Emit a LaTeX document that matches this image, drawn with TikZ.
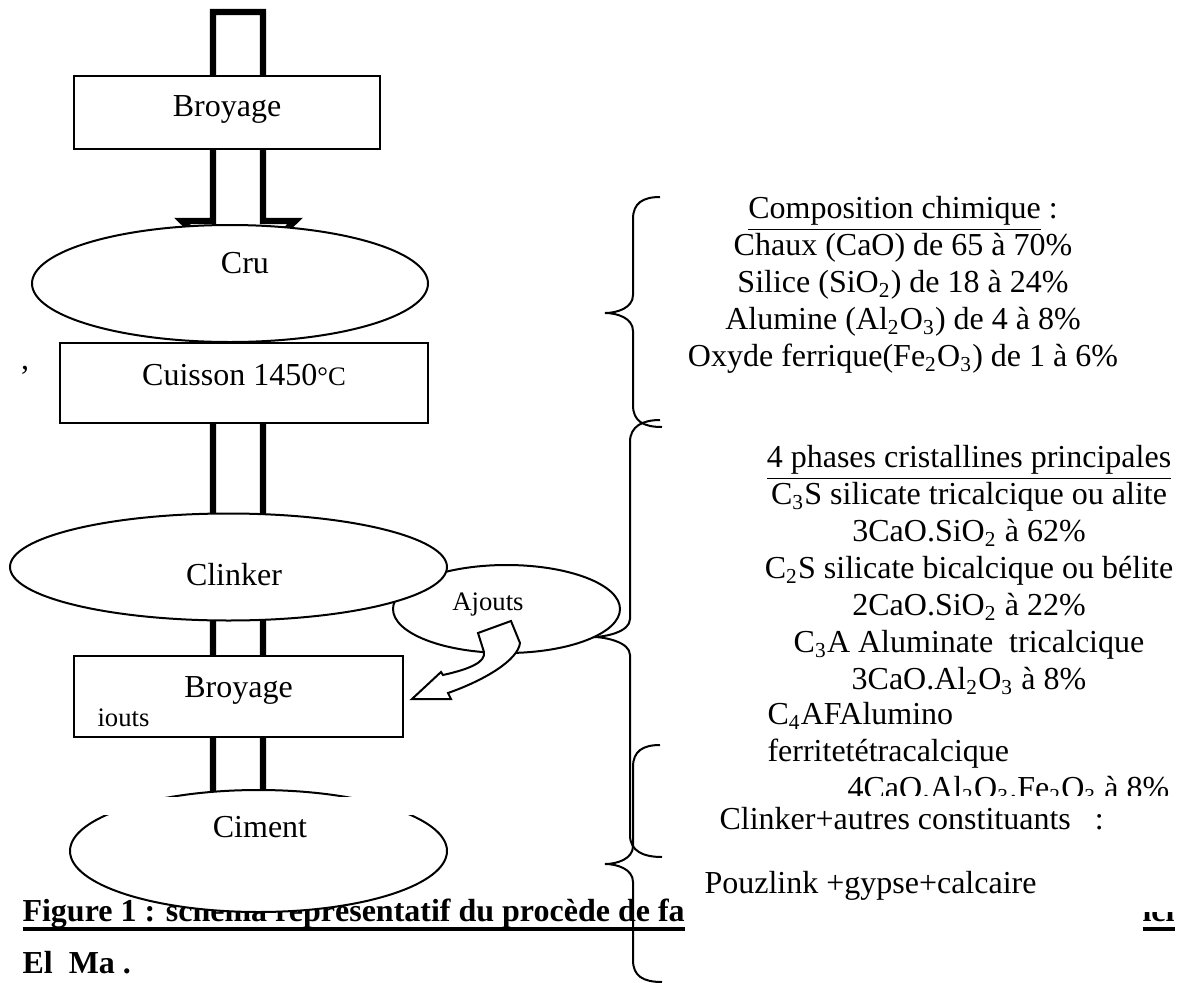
\documentclass[tikz,border=0pt]{standalone}
\usepackage{fontspec}
\setmainfont{Liberation Serif}
\usetikzlibrary{shapes.geometric}

% conduit creux (fleche epaisse) entre deux etapes
\newcommand{\tuyau}[2]{\draw[conduit] (213,#1) -- (263,#1) -- (263,#2) -- (295,#2) -- (238.5,{#2+55}) -- (182,#2) -- (213,#2) -- cycle;}
% accolade : x pointe, x trait, haut, milieu, bas
\newcommand{\accolade}[5]{\draw[accol] (660,#3) .. controls (643,#3) and (#2,{#3+6}) .. (#2,{#3+22}) -- (#2,{#4-18}) .. controls (#2,{#4-5}) and ({#1+12},#4) .. (#1,#4) .. controls ({#1+12},#4) and (#2,{#4+5}) .. (#2,{#4+18}) -- (#2,{#5-22}) .. controls (#2,{#5-6}) and (643,#5) .. (662,#5);}
\newcommand{\soulgras}[1]{\sbox0{#1}\rlap{\rule[-3.75pt]{\wd0}{1.5pt}}\usebox0}

\begin{document}
\begin{tikzpicture}[x=0.375pt,y=-0.375pt,
  every node/.style={inner sep=0pt,font=\fontsize{12pt}{13.875pt}\selectfont},
  boite/.style={draw,fill=white,line width=0.75pt,rectangle},
  ovale/.style={draw,fill=white,line width=0.75pt,ellipse},
  petit/.style={font=\fontsize{10pt}{12pt}\selectfont},
  legende/.style={font=\fontsize{12pt}{13.875pt}\selectfont\bfseries,anchor=base west},
  conduit/.style={draw,line width=2.4pt,line join=miter},
  accol/.style={draw,line width=0.75pt},
  fleche/.style={draw,fill=white,line width=0.75pt,line join=miter}]
\useasboundingbox (0,0) rectangle (1177,983);

% legende (en partie cachee par le ciment)
\node[legende] (fig) at (22,921) {\soulgras{Figure 1 : schéma représentatif du procède de fa}};
\begin{scope}
\clip (1130,912) rectangle (1177,940);
\node[legende] (figfin) at (1142,921) {\soulgras{ici}};
\end{scope}
\node[legende] (lieu) at (22,973) {El\ \ Ma .};

% conduits
\tuyau{12}{221}
\tuyau{330}{530}
\tuyau{600}{665}
\tuyau{720}{830}

% accolades
\accolade{605}{633}{197}{313}{427}
\accolade{593}{630}{420}{637}{857}
\accolade{605}{633}{745}{864}{982}

% etapes
\node[boite,minimum width=114.75pt,text height=15pt,text depth=12.375pt,anchor=base] (broyA) at (227,116) {Broyage};
\node[ovale,minimum width=148.5pt,minimum height=43.875pt] (cru) at (230,283.5) {};
\node[anchor=base] (cruT) at (245,273) {Cru};
\node[boite,minimum width=138pt,text height=15.75pt,text depth=14.25pt,anchor=base] (cuisson) at (244,385) {Cuisson 1450{\fontsize{10pt}{12pt}\selectfont °C}};
\node[ovale,minimum width=85.125pt,minimum height=33pt] (ajouts) at (506.5,609) {};
\node[ovale,minimum width=163.875pt,minimum height=40.125pt] (clinker) at (228.5,567) {};
\node[anchor=base] (clinkerT) at (234,585) {Clinker};
\node[petit,anchor=base] (ajoutsT) at (488,610) {Ajouts};
\draw[fleche] (478,633) -- (484,652) .. controls (486,662) and (470,669) .. (443,675) -- (441,672) -- (412,699) -- (451,699) -- (448,693) .. controls (485,680) and (518,660) .. (520,643) -- (511,621) -- cycle;
\node[boite,minimum width=123.375pt,text height=15.375pt,text depth=15pt,anchor=base] (broyB) at (238.5,697) {Broyage};
\node[petit,anchor=base west] (ioutsT) at (97,726) {iouts};
\node[ovale,minimum width=141.375pt,minimum height=45.75pt] (ciment) at (258.5,851) {};
\fill[white] (60,797) rectangle (460,815);
\node[anchor=base] (cimentT) at (260,837) {Ciment};
\node[anchor=base] (virgule) at (25,369) {,};

% textes de droite
\node[anchor=north,align=center] (compo) at (903,196) {\underline{Composition chimique} :\\ Chaux (CaO) de 65 à 70\%\\ Silice (SiO\textsubscript{2}) de 18 à 24\%\\ Alumine (Al\textsubscript{2}O\textsubscript{3}) de 4 à 8\%\\ Oxyde ferrique(Fe\textsubscript{2}O\textsubscript{3}) de 1 à 6\%};
\node[anchor=north,align=center] (phases) at (969,445) {\underline{4 phases cristallines principales}\\ C\textsubscript{3}S silicate tricalcique ou alite\\ 3CaO.SiO\textsubscript{2} à 62\%\\ C\textsubscript{2}S silicate bicalcique ou bélite\\ 2CaO.SiO\textsubscript{2} à 22\%\\ C\textsubscript{3}A Aluminate\ \ tricalcique\\ 3CaO.Al\textsubscript{2}O\textsubscript{3} à 8\%};
\begin{scope}
\clip (700,690) rectangle (1177,795);
\node[anchor=north west,align=left] (ferrite) at (767,702) {C\textsubscript{4}AFAlumino\\ ferritetétracalcique\\ \hspace*{30pt}4CaO.Al\textsubscript{2}O\textsubscript{3}.Fe\textsubscript{2}O\textsubscript{3} à 8\%};
\end{scope}
\node[anchor=base west] (autres) at (719,829) {Clinker+autres constituants\ \ \ :};
\node[anchor=base west] (pouz) at (704,893) {Pouzlink +gypse+calcaire};
\end{tikzpicture}
\end{document}
